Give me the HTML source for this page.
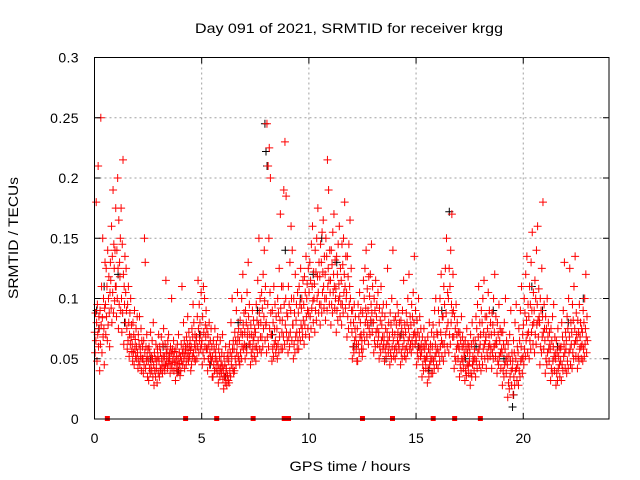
<!DOCTYPE html>
<html><head><meta charset="utf-8">
<style>
html,body{margin:0;padding:0;background:#fff;}
svg{display:block;font-family:"Liberation Sans",sans-serif;}
</style></head>
<body>
<svg id="chart" width="640" height="480" viewBox="0 0 640 480" xmlns="http://www.w3.org/2000/svg">
<rect width="640" height="480" fill="#fff"/>
<g id="grid"></g>
<g id="black"></g>
<g id="red"></g>
<g id="axes"></g>
<text x="349" y="33" font-size="14" text-anchor="middle" textLength="308" lengthAdjust="spacingAndGlyphs" fill="#000">Day 091 of 2021, SRMTID for receiver krgg</text>
<text x="350" y="471" font-size="14" text-anchor="middle" textLength="121" lengthAdjust="spacingAndGlyphs" fill="#000">GPS time / hours</text>
<text transform="translate(18,238) rotate(-90)" font-size="14" text-anchor="middle" textLength="122" lengthAdjust="spacingAndGlyphs" fill="#000">SRMTID / TECUs</text>
</svg>
<script>
const xTicks=[0,5,10,15,20];
const yTicks=[0,0.05,0.1,0.15,0.2,0.25,0.3];
const yTickLabels=["0","0.05","0.1","0.15","0.2","0.25","0.3"];
const binWidth=0.25;
// red series: values (thousandths of TECU) per 0.25 h bin, in time order within each bin
const redBins=[
[72,55,88,65,180,80,48,95,70,210,60,85,75,40],
[90,62,250,78,110,55,84,150,68,100,75,45,92,130],
[95,70,125,85,110,65,140,78,100,118,88,60,105,130],
[115,92,160,80,135,105,190,88,145,125,98,140,110,175],
[110,85,140,100,200,125,75,165,95,130,118,150,90,175],
[100,72,145,88,215,120,62,110,95,135,80,105,125,90],
[75,58,95,65,110,80,52,70,88,62,100,68,78,56],
[62,48,80,55,70,45,90,58,66,52,75,60,50,85],
[55,42,70,48,62,85,45,58,52,75,40,65,50,60],
[50,38,65,45,150,55,130,42,60,48,70,52,35,58],
[48,32,60,42,55,38,72,45,52,40,65,50,35,80],
[45,28,55,40,50,35,62,42,48,30,58,52,38,70],
[48,35,60,42,55,40,68,50,45,38,62,52,75,44],
[52,40,62,45,115,55,48,58,42,65,50,70,46,54],
[50,38,60,45,55,100,42,58,48,52,65,40,56,47],
[48,32,58,42,52,38,62,45,50,70,40,55,46,36],
[52,40,62,48,110,55,45,58,80,50,65,42,54,60],
[58,45,68,50,62,85,55,48,72,60,52,65,57,40],
[60,45,75,52,68,95,55,80,50,62,70,48,58,65],
[68,50,85,60,115,75,55,95,65,80,70,58,105,62],
[65,45,85,55,110,72,50,100,60,78,68,90,58,75],
[58,40,70,50,62,80,45,55,65,52,75,48,60,35],
[52,35,65,45,58,40,75,50,55,42,62,48,38,68],
[45,30,58,40,52,35,65,42,48,38,55,44,70,33],
[40,25,52,35,45,30,60,38,42,28,50,36,55,32],
[48,30,62,40,55,35,80,45,52,100,58,42,65,38],
[58,40,72,50,65,45,90,55,62,105,68,52,75,48],
[65,45,82,55,72,50,100,60,70,120,78,58,88,62],
[72,50,90,60,80,55,105,68,75,130,85,62,95,70],
[62,45,78,55,70,50,90,58,65,82,68,52,75,60],
[72,48,95,60,82,55,115,65,78,150,88,58,100,68],
[80,55,105,68,92,60,120,75,85,140,98,65,110,78],
[80,55,245,68,95,210,60,150,225,75,105,200,88,70],
[70,48,90,58,80,52,110,62,75,95,65,55,85,60],
[75,50,100,62,88,55,125,68,82,170,92,58,110,72],
[82,58,110,68,190,95,62,230,78,100,185,72,88,65],
[85,55,110,68,95,60,130,72,90,160,100,65,140,78],
[78,50,100,62,88,55,120,68,82,95,72,58,105,65],
[88,58,110,72,95,65,125,78,92,100,75,68,115,82],
[95,62,118,78,105,70,135,85,100,112,90,75,125,88],
[105,68,130,85,115,75,145,92,110,160,98,80,122,100],
[112,72,140,90,122,82,150,100,118,175,105,88,130,95],
[118,78,145,95,130,88,155,105,122,165,110,92,135,100],
[120,82,150,100,135,90,215,110,125,190,115,95,140,105],
[115,78,140,95,128,88,155,105,120,170,110,92,132,100],
[108,72,135,90,120,82,145,98,112,160,102,85,125,95],
[115,78,145,95,128,88,150,105,120,180,110,92,135,100],
[105,68,135,85,118,75,145,95,110,165,100,80,125,90],
[72,50,90,60,80,55,95,65,75,85,68,58,62,48],
[75,48,95,62,85,55,105,68,80,90,70,58,65,52],
[88,58,115,72,100,65,125,80,92,140,85,68,108,78],
[90,62,118,75,102,70,120,82,95,145,88,72,110,80],
[80,55,100,65,90,60,115,72,85,95,75,62,105,68],
[72,50,92,60,82,55,110,65,78,88,68,58,95,62],
[68,48,85,58,75,52,95,62,72,125,65,55,80,60],
[68,45,88,55,78,50,100,60,72,140,65,52,82,58],
[70,50,85,60,78,55,95,65,72,88,62,58,80,68],
[68,45,82,55,75,50,90,60,70,115,65,52,78,58],
[72,50,88,60,80,55,100,65,75,120,68,58,85,62],
[78,55,95,65,85,60,105,70,80,135,72,62,90,68],
[65,45,82,55,72,50,100,60,68,85,58,52,75,62],
[55,35,68,45,60,40,75,50,58,65,48,42,62,52],
[52,30,68,42,58,35,80,45,55,62,48,38,72,50],
[60,38,78,48,68,42,90,52,62,100,55,45,72,58],
[70,42,90,55,80,48,100,60,72,120,65,52,85,62],
[85,48,110,62,95,55,125,70,88,150,75,60,105,80],
[100,55,125,70,110,62,140,80,95,170,88,68,120,90],
[68,42,85,52,75,48,95,58,70,80,62,50,72,60],
[58,35,72,45,65,40,85,50,60,68,48,42,62,55],
[52,32,65,40,58,36,75,45,55,62,44,38,60,48],
[55,28,70,38,62,35,80,45,52,65,48,40,58,50],
[65,35,85,48,75,42,95,55,68,110,58,45,80,62],
[70,40,90,52,80,45,100,58,72,115,62,50,85,65],
[68,42,85,55,75,50,105,60,70,90,62,52,80,58],
[70,42,88,55,78,50,100,60,72,120,62,52,85,65],
[62,38,80,48,70,45,95,52,65,75,55,42,72,58],
[55,28,72,40,62,35,80,45,58,100,48,38,65,52],
[45,18,62,30,52,25,70,35,48,90,40,28,55,42],
[48,20,65,35,55,28,80,40,50,95,42,32,60,45],
[55,28,75,40,65,35,90,48,60,110,50,38,70,52],
[78,45,100,58,88,52,120,65,82,135,70,55,95,72],
[85,50,110,65,95,58,130,72,90,155,78,62,105,80],
[90,55,115,70,100,62,140,78,95,160,82,68,108,85],
[80,45,100,60,90,55,125,68,85,180,72,58,95,75],
[65,38,85,50,75,45,100,55,68,80,58,48,72,62],
[58,32,75,42,65,38,85,48,60,95,52,40,68,55],
[50,28,65,38,55,32,75,42,52,60,45,35,58,48],
[60,32,80,45,68,40,90,52,62,130,55,42,72,58],
[65,38,85,48,75,42,100,55,68,125,58,45,80,62],
[72,42,95,55,82,50,110,62,75,135,65,52,88,70],
[65,42,82,52,72,48,95,58,68,80,60,50,75,62],
[72,48,90,58,80,52,100,62,75,120,68,55,85,65]
];
// black series (mostly hidden behind red)
const blackTimes=[0.1,0.2,0.45,1.1,1.4,2.6,3.2,3.9,4.9,5.4,6.1,6.7,7.1,7.6,7.95,8.0,8.05,8.3,8.9,9.6,10.2,10.6,11.3,12.1,12.9,13.6,14.3,15.1,15.6,16.2,16.55,17.3,17.8,18.6,19.1,19.5,19.55,20.4,20.9,21.6,22.1,22.8];
const blackVals=[0.09,0.075,0.11,0.12,0.08,0.05,0.06,0.04,0.07,0.045,0.035,0.08,0.06,0.09,0.245,0.222,0.21,0.07,0.14,0.1,0.12,0.15,0.13,0.06,0.08,0.05,0.07,0.06,0.04,0.09,0.172,0.05,0.06,0.09,0.05,0.01,0.02,0.11,0.09,0.06,0.08,0.10];
// zero-value markers (squares)
const zeroTimes=[0.6,4.25,5.7,7.4,8.85,9.05,12.5,13.9,15.8,16.8,18.0];

const X0=94.5,X1=609,Y0=419,Y1=57.5,XMAX=24,YMAX=0.3;
const xs=t=>X0+(X1-X0)*t/XMAX;
const ys=v=>Y0-(Y0-Y1)*v/YMAX;
const NS="http://www.w3.org/2000/svg";
function mk(tag,attrs,parent){const e=document.createElementNS(NS,tag);for(const k in attrs)e.setAttribute(k,attrs[k]);parent.appendChild(e);return e;}
const grid=document.getElementById('grid'),axes=document.getElementById('axes');
xTicks.forEach(t=>{if(t>0){const l=mk('line',{x1:xs(t),x2:xs(t),y1:Y1,y2:Y0,stroke:'#a0a0a0','stroke-dasharray':'2,3'},grid);

}
const tx=mk('text',{x:xs(t),y:Y0+24,'font-size':14,'text-anchor':'middle',fill:'#000'},axes);tx.textContent=t;


mk('line',{x1:xs(t),x2:xs(t),y1:Y0,y2:Y0-6,stroke:'#000'},axes);
mk('line',{x1:xs(t),x2:xs(t),y1:Y1,y2:Y1+6,stroke:'#000'},axes);});
yTicks.forEach((v,i)=>{if(v>0&&v<YMAX){const l=mk('line',{x1:X0,x2:X1,y1:ys(v),y2:ys(v),stroke:'#a0a0a0','stroke-dasharray':'2,3'},grid);

}
const tx=mk('text',{x:79,y:ys(v)+5,'font-size':14,'text-anchor':'end',fill:'#000','letter-spacing':'0.4'},axes);tx.textContent=yTickLabels[i];


mk('line',{x1:X0,x2:X0+6,y1:ys(v),y2:ys(v),stroke:'#000'},axes);
mk('line',{x1:X1,x2:X1-6,y1:ys(v),y2:ys(v),stroke:'#000'},axes);});
const fr=mk('rect',{x:X0,y:Y1,width:X1-X0,height:Y0-Y1,fill:'none',stroke:'#000'},axes);


function plus(t,v,col,g){const x=xs(t),y=ys(v);
return mk('path',{d:`M${x-4},${y}H${x+4}M${x},${y-4}V${y+4}`,stroke:col,'stroke-width':1,fill:'none'},g);}
const gb=document.getElementById('black');
blackTimes.forEach((t,i)=>{const p=plus(t,blackVals[i],'#000',gb);

});
const gr=document.getElementById('red');
redBins.forEach((arr,i)=>{arr.forEach((v,j)=>{const t=i*binWidth+(j+0.5)*binWidth/arr.length;
const p=plus(t,v/1000,'#f00',gr);

});});
zeroTimes.forEach(t=>{const r=mk('rect',{x:xs(t)-2.5,y:ys(0)-3,width:5,height:5,fill:'#f00'},gr);

});
</script>
</body></html>
